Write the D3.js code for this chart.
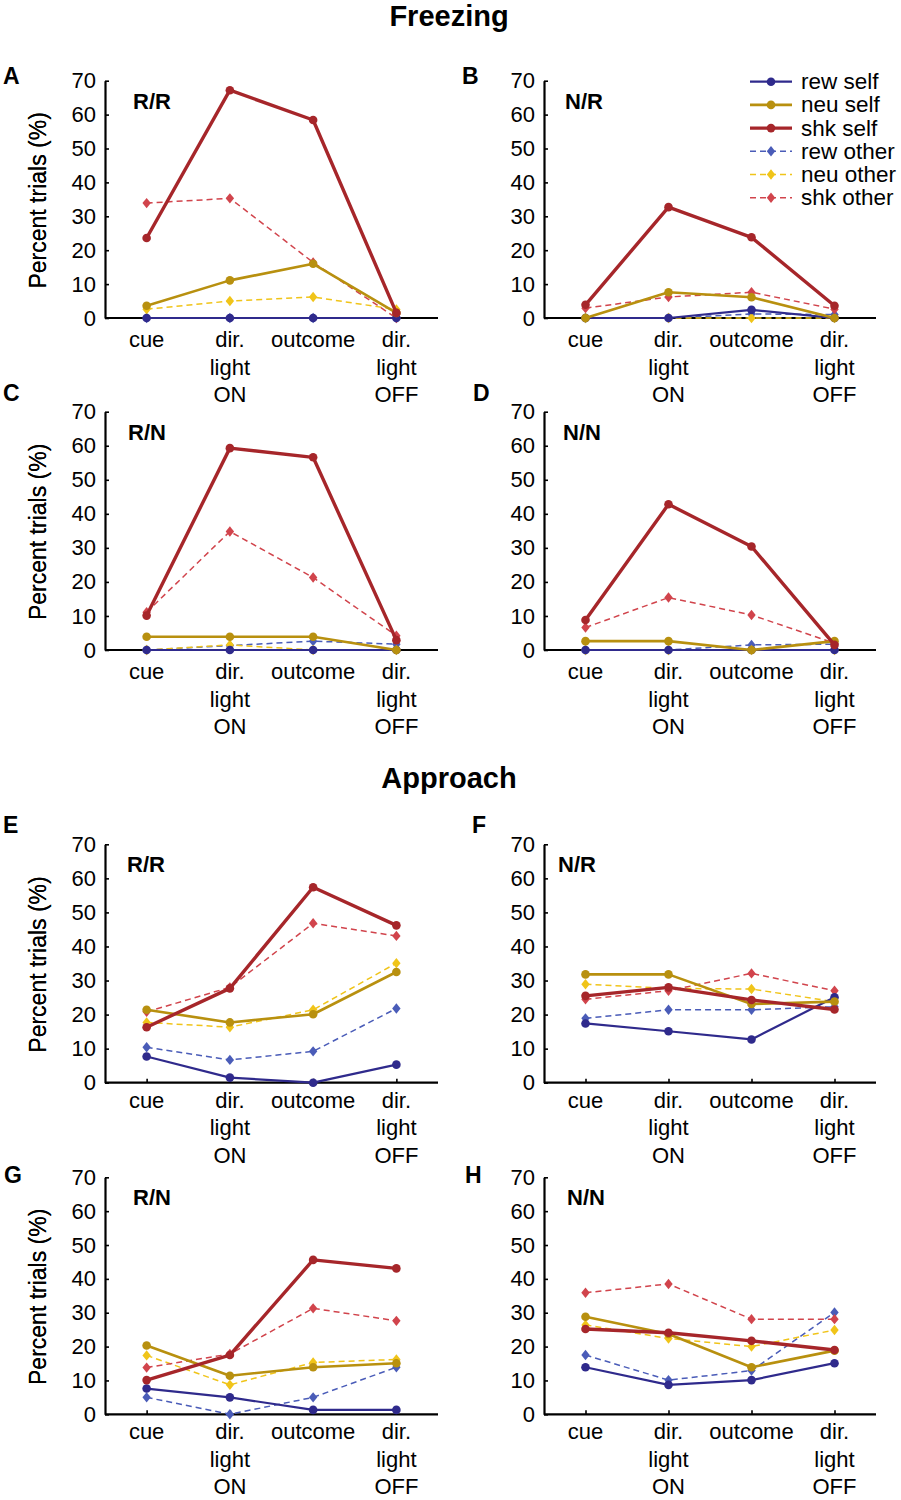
<!DOCTYPE html>
<html><head><meta charset="utf-8">
<script src="https://cdn.jsdelivr.net/npm/d3@7"></script>
<style>body{margin:0;background:#fff;} svg{display:block;} text{font-family:"Liberation Sans",Arial,sans-serif;fill:#000;}</style>
</head><body>
<script>
const categories = [["cue"],["dir.","light","ON"],["outcome"],["dir.","light","OFF"]];
const yTicks = [0,10,20,30,40,50,60,70];
const seriesNames = ["rew self","neu self","shk self","rew other","neu other","shk other"];
const seriesColors = ["#2f2a8c","#b8900f","#a6262a","#4a5cb8","#f0c419","#d1444c"];
const sectionTitles = ["Freezing","Approach"];
// rows follow seriesNames order; columns follow categories order
const panelA = [[0,0,0,0],[3.6,11.1,16.0,1.5],[23.6,67.2,58.4,1.5],[0,0,0,0],[2.6,5.0,6.2,2.5],[33.9,35.3,16.4,0]];
const panelB = [[0,0,2.4,0],[0,7.6,6.1,0],[3.9,32.7,23.8,3.6],[0,0,1.2,1.0],[0,0,0,0],[2.9,6.2,7.6,2.6]];
const panelC = [[0,0,0,0],[3.9,3.9,3.9,0],[10.1,59.3,56.6,2.9],[0,1.3,2.6,1.7],[0,1.5,0,0],[11.1,34.8,21.3,4.2]];
const panelD = [[0,0,0,0],[2.6,2.6,0,2.6],[8.8,42.8,30.4,1.5],[0,0,1.5,1.7],[0,0,0,0],[6.6,15.4,10.3,2.0]];
const panelE = [[7.7,1.5,0,5.3],[21.4,17.7,20.1,32.5],[16.3,27.7,57.4,46.2],[10.4,6.7,9.2,21.8],[17.7,16.3,21.4,35.1],[20.8,28.0,46.8,43.1]];
const panelF = [[17.4,15.1,12.7,25.1],[31.8,31.8,23.1,23.8],[25.5,28.0,24.3,21.5],[18.9,21.4,21.4,22.3],[28.9,27.7,27.5,23.8],[24.5,27.0,32.1,27.0]];
const panelG = [[7.6,5.0,1.3,1.3],[20.3,11.4,13.9,15.1],[10.1,17.5,45.6,43.1],[5.0,0,5.0,13.9],[17.4,8.7,15.3,16.2],[13.8,17.8,31.3,27.6]];
const panelH = [[13.9,8.7,10.1,15.1],[28.8,23.7,13.9,18.8],[25.2,24.1,21.7,19.0],[17.5,10.1,12.9,30.1],[26.4,22.4,20.0,24.9],[35.9,38.5,28.1,28.1]];
const panelLetters = ["A","B","C","D","E","F","G","H"];
const panelGroups = ["R/R","N/R","R/N","N/N","R/R","N/R","R/N","N/N"];

const panels = [panelA,panelB,panelC,panelD,panelE,panelF,panelG,panelH];
// layout
const layout = [
  {ax:105, x1:438, y0:318, y70:80.7, lx:3, ly:84, lab:29, gx:28},
  {ax:544, x1:876, y0:318, y70:80.7, lx:462, ly:84, lab:29, gx:21, legend:true},
  {ax:105, x1:438, y0:650, y70:411.7, lx:3, ly:401, lab:29, gx:23},
  {ax:544, x1:876, y0:650, y70:411.7, lx:473, ly:401, lab:29, gx:19},
  {ax:105, x1:438, y0:1082.7, y70:844.3, lx:3, ly:833, lab:25, gx:22},
  {ax:544, x1:876, y0:1082.7, y70:844.3, lx:472, ly:833, lab:25, gx:14},
  {ax:105, x1:438, y0:1414.3, y70:1177.3, lx:4, ly:1183, lab:25, gx:28},
  {ax:544, x1:876, y0:1414.3, y70:1177.3, lx:465, ly:1183, lab:25, gx:23}
];
const widths = [2.2,2.6,3.4,1.5,1.5,1.5];

const svg = d3.select("body").append("svg").attr("width",901).attr("height",1500);
svg.append("text").attr("x",449).attr("y",26).attr("text-anchor","middle").style("font-size","29px").style("font-weight","bold").text(sectionTitles[0]);
svg.append("text").attr("x",449).attr("y",788).attr("text-anchor","middle").style("font-size","29px").style("font-weight","bold").text(sectionTitles[1]);

const diamondType = {draw(ctx,size){ const w=4.2,h=5.2; ctx.moveTo(0,-h); ctx.lineTo(w,0); ctx.lineTo(0,h); ctx.lineTo(-w,0); ctx.closePath(); }};
const diamond = d3.symbol().type(diamondType);

panels.forEach((data,pi)=>{
  const L = layout[pi];
  const g = svg.append("g");
  const x = d3.scalePoint().domain(d3.range(categories.length)).range([L.ax,L.x1]).padding(0.5);
  const y = d3.scaleLinear().domain([0,70]).range([L.y0,L.y70]);
  // y axis (inward ticks)
  const yAxis = d3.axisLeft(y).tickValues(yTicks).tickSize(-4).tickSizeOuter(0).tickPadding(9);
  const ya = g.append("g").attr("transform",`translate(${L.ax},0)`).call(yAxis);
  ya.select(".domain").attr("stroke","#000").attr("stroke-width",2.2);
  ya.selectAll(".tick line").attr("stroke","#000").attr("stroke-width",1.6);
  ya.selectAll("text").style("font-size","22px").attr("font-family",null);
  // x axis (inward ticks)
  const xAxis = d3.axisBottom(x).tickSize(-4).tickSizeOuter(0).tickFormat("");
  const xa = g.append("g").attr("transform",`translate(0,${L.y0})`).call(xAxis);
  xa.select(".domain").attr("stroke","#000").attr("stroke-width",2.2).attr("d",`M${L.ax},0H${L.x1}`);
  xa.selectAll(".tick line").attr("stroke","#000").attr("stroke-width",1.6);
  categories.forEach((lines,ci)=>{
    const t = g.append("text").attr("text-anchor","middle").style("font-size","22px");
    lines.forEach((ln,li)=>{
      t.append("tspan").attr("x",x(ci)).attr("y",L.y0+L.lab+li*27.5).text(ln);
    });
  });
  // y label
  g.append("text").attr("transform",`translate(46,${(L.y0+L.y70)/2+1}) rotate(-90)`).attr("text-anchor","middle").style("font-size","23px").text("Percent trials (%)");
  // letter and group
  g.append("text").attr("x",L.lx).attr("y",L.ly).style("font-size","23px").style("font-weight","bold").text(panelLetters[pi]);
  g.append("text").attr("x",L.ax+L.gx).attr("y",L.y70+28).style("font-size","22px").style("font-weight","bold").text(panelGroups[pi]);
  // series
  const line = d3.line().x((d,i)=>x(i)).y(d=>y(d));
  const order = [3,4,5,0,1,2];
  order.forEach(si=>{
    const vals = data[si];
    const other = si>=3;
    g.append("path").attr("d",line(vals)).attr("fill","none").attr("stroke",seriesColors[si])
      .attr("stroke-width",widths[si]).attr("stroke-dasharray",other?"6,4":null).attr("stroke-linejoin","round");
    vals.forEach((v,i)=>{
      if(other){
        g.append("path").attr("d",diamond()).attr("transform",`translate(${x(i)},${y(v)})`).attr("fill",seriesColors[si]);
      } else {
        g.append("circle").attr("cx",x(i)).attr("cy",y(v)).attr("r",4.3).attr("fill",seriesColors[si]);
      }
    });
  });
  if(L.legend){
    const lg = g.append("g");
    const top = L.y70+1;
    seriesNames.forEach((nm,si)=>{
      const yy = top + si*23.2;
      const other = si>=3;
      lg.append("line").attr("x1",750).attr("x2",792).attr("y1",yy).attr("y2",yy).attr("stroke",seriesColors[si])
        .attr("stroke-width",widths[si]).attr("stroke-dasharray",other?"6,4":null);
      if(other) lg.append("path").attr("d",diamond()).attr("transform",`translate(771,${yy})`).attr("fill",seriesColors[si]);
      else lg.append("circle").attr("cx",771).attr("cy",yy).attr("r",4.3).attr("fill",seriesColors[si]);
      lg.append("text").attr("x",801).attr("y",yy+7.5).style("font-size","22.5px").text(nm);
    });
  }
});
</script>
</body></html>
